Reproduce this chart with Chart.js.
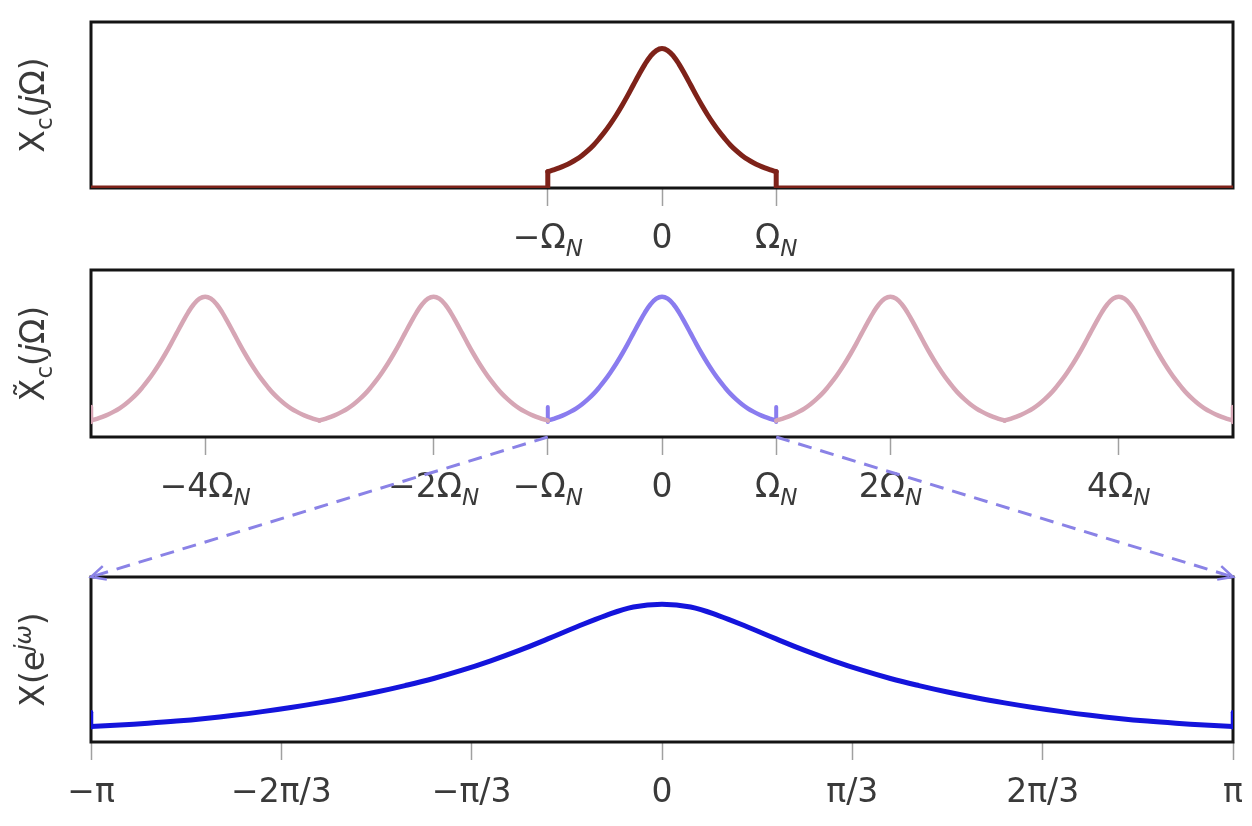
<!DOCTYPE html>
<html><head><meta charset="utf-8">
<script src="https://cdn.jsdelivr.net/npm/chart.js@4.4.0/dist/chart.umd.min.js"></script>
<style>
html,body{margin:0;padding:0;background:#fff;}
#wrap{position:relative;width:1252px;height:826px;overflow:hidden;background:#fff;}
#wrap canvas{position:absolute;left:0;top:0;}
</style></head><body>
<div id="wrap">
<canvas id="c1" width="1252" height="826"></canvas>
<canvas id="c2" width="1252" height="826"></canvas>
<canvas id="c3" width="1252" height="826"></canvas>
</div>
<script>
// ---------------- DATA ----------------
// Panel 1: continuous-time spectrum Xc(jΩ), Ω in units of Ω_N (band-limited to |Ω| ≤ Ω_N)
const xcOmega = [-1, -0.95, -0.9, -0.85, -0.8, -0.75, -0.7, -0.65, -0.6, -0.55, -0.5, -0.45, -0.4, -0.35, -0.3, -0.25, -0.2, -0.15, -0.1, -0.05,
                 0, 0.05, 0.1, 0.15, 0.2, 0.25, 0.3, 0.35, 0.4, 0.45, 0.5, 0.55, 0.6, 0.65, 0.7, 0.75, 0.8, 0.85, 0.9, 0.95, 1];
const xcMag   = [0.098, 0.109, 0.121, 0.135, 0.152, 0.172, 0.196, 0.225, 0.258, 0.297, 0.34, 0.388, 0.44, 0.497, 0.558, 0.622, 0.685, 0.745, 0.795, 0.828,
                 0.84, 0.828, 0.795, 0.745, 0.685, 0.622, 0.558, 0.497, 0.44, 0.388, 0.34, 0.297, 0.258, 0.225, 0.196, 0.172, 0.152, 0.135, 0.121, 0.109, 0.098];
const xcOutside = [-5, 5];          // x-range of the zero part (Ω_N units)
const xcZero = 0;

// Panel 2: periodic spectrum, replicas of Xc centered at multiples of 2Ω_N
const replicaCenters = [-4, -2, 2, 4];
const baseCenter = 0;
const edgeMarkX = [-5, 5];
const markLow = 0.09, markHigh = 0.18;

// Panel 3: DTFT X(e^{jω}), ω in units of π
const dtftOmega = [-1, -0.95, -0.9, -0.85, -0.8, -0.75, -0.7, -0.65, -0.6, -0.55, -0.5, -0.45, -0.4, -0.35, -0.3, -0.25, -0.2, -0.15, -0.1, -0.05,
                   0, 0.05, 0.1, 0.15, 0.2, 0.25, 0.3, 0.35, 0.4, 0.45, 0.5, 0.55, 0.6, 0.65, 0.7, 0.75, 0.8, 0.85, 0.9, 0.95, 1];
const dtftMag   = [0.094, 0.103, 0.114, 0.127, 0.143, 0.162, 0.184, 0.209, 0.237, 0.268, 0.303, 0.342, 0.385, 0.435, 0.492, 0.555, 0.625, 0.697, 0.765, 0.818,
                   0.835, 0.818, 0.765, 0.697, 0.625, 0.555, 0.492, 0.435, 0.385, 0.342, 0.303, 0.268, 0.237, 0.209, 0.184, 0.162, 0.143, 0.127, 0.114, 0.103, 0.094];

// Ticks
const ticks1 = [-1, 0, 1];
const tickLabels1 = ['−Ω_N', '0', 'Ω_N'];
const ticks2 = [-4, -2, -1, 0, 1, 2, 4];
const tickLabels2 = ['−4Ω_N', '−2Ω_N', '−Ω_N', '0', 'Ω_N', '2Ω_N', '4Ω_N'];
const ticks3 = [-1, -2/3, -1/3, 0, 1/3, 2/3, 1];
const tickLabels3 = ['−π', '−2π/3', '−π/3', '0', 'π/3', '2π/3', 'π'];

// Axis titles
const yTitle1 = 'X_c(jΩ)';
const yTitle2 = 'X\u0303_c(jΩ)';
const yTitle3 = 'X(e^{jω})';

// Mapping arrows: panel-2 Ω (Ω_N units) -> panel-3 ω (π units)
const mapFrom = [-1, 1];
const mapTo = [-1, 1];

// ---------------- STYLE / LAYOUT ----------------
const W = 1252, H = 826, TICK_LEN = 18;
const FONT = '"DejaVu Sans", "Liberation Sans", sans-serif';
const TXT = '#3a3a3a';
const RED = '#7e2219', PINK = '#d6a6b5', LAV = '#8a7cef', BLUE = '#1414dc', DASH = '#8a82e6';
const areas = [
  {left: 91, right: 1233, top: 22, bottom: 188},
  {left: 91, right: 1233, top: 270, bottom: 437},
  {left: 91, right: 1233, top: 577, bottom: 742}
];
function paddingFor(a) { return {left: a.left, right: W - a.right, top: a.top, bottom: H - a.bottom - TICK_LEN}; }

// ---------------- RICH TEXT ----------------
function parseRich(str) {
  const runs = [];
  const italic = 'jωN';
  function addChar(c, mode) {
    if (c === '\u0303' && runs.length) { runs[runs.length - 1].text += c; return; }
    const it = italic.includes(c);
    const last = runs[runs.length - 1];
    if (last && last.mode === mode && last.italic === it) last.text += c;
    else runs.push({text: c, mode: mode, italic: it});
  }
  let i = 0;
  while (i < str.length) {
    const ch = str[i];
    if (ch === '_' || ch === '^') {
      const mode = ch === '_' ? 'sub' : 'sup'; i++;
      let content;
      if (str[i] === '{') { const j = str.indexOf('}', i); content = str.slice(i + 1, j); i = j + 1; }
      else { content = str[i]; i++; }
      for (const c of content) addChar(c, mode);
    } else { addChar(ch, 'base'); i++; }
  }
  return runs;
}
function drawRich(ctx, str, cx, baseline, size, color) {
  const runs = parseRich(str);
  const fontFor = r => (r.italic ? 'italic ' : '') + (r.mode === 'base' ? size : Math.round(size * 0.7)) + 'px ' + FONT;
  let total = 0;
  runs.forEach(r => { ctx.font = fontFor(r); r.w = ctx.measureText(r.text).width; total += r.w; });
  let x = cx - total / 2;
  ctx.fillStyle = color; ctx.textBaseline = 'alphabetic'; ctx.textAlign = 'left';
  runs.forEach(r => {
    ctx.font = fontFor(r);
    const dy = r.mode === 'sub' ? size * 0.24 : (r.mode === 'sup' ? -size * 0.40 : 0);
    ctx.fillText(r.text, x, baseline + dy);
    x += r.w;
  });
}

// ---------------- PLUGINS ----------------
const framePlugin = {
  id: 'frame',
  beforeDatasetsDraw(chart) {
    const {ctx, chartArea: a} = chart;
    ctx.save(); ctx.strokeStyle = '#141414'; ctx.lineWidth = 3;
    ctx.strokeRect(a.left, a.top, a.right - a.left, a.bottom - a.top);
    ctx.restore();
  }
};
const textPlugin = {
  id: 'richText',
  afterDraw(chart, args, opts) {
    const {ctx, chartArea: a} = chart;
    const sx = chart.scales.x;
    ctx.save();
    sx.ticks.forEach((t, i) => {
      const lab = opts.labels[i];
      if (lab === undefined) return;
      drawRich(ctx, lab, sx.getPixelForValue(t.value), a.bottom + 60, 33, TXT);
    });
    ctx.translate(44, (a.top + a.bottom) / 2);
    ctx.rotate(-Math.PI / 2);
    drawRich(ctx, opts.title, 0, 0, 33, TXT);
    ctx.restore();
  }
};
let chart2 = null;
const arrowPlugin = {
  id: 'aliasArrows',
  afterDraw(chart) {
    if (!chart2) return;
    const {ctx} = chart;
    const s2 = chart2.scales.x, a2 = chart2.chartArea;
    const s3 = chart.scales.x, a3 = chart.chartArea;
    ctx.save();
    ctx.strokeStyle = DASH; ctx.lineWidth = 3;
    mapFrom.forEach((f, i) => {
      const x0 = s2.getPixelForValue(f), y0 = a2.bottom;
      const x1 = s3.getPixelForValue(mapTo[i]), y1 = a3.top;
      ctx.setLineDash([14, 9]);
      ctx.beginPath(); ctx.moveTo(x0, y0); ctx.lineTo(x1, y1); ctx.stroke();
      const ang = Math.atan2(y1 - y0, x1 - x0), L = 16, sp = 0.45;
      ctx.setLineDash([]);
      ctx.lineWidth = 2.5;
      ctx.beginPath();
      ctx.moveTo(x1 - L * Math.cos(ang - sp), y1 - L * Math.sin(ang - sp));
      ctx.lineTo(x1, y1);
      ctx.lineTo(x1 - L * Math.cos(ang + sp), y1 - L * Math.sin(ang + sp));
      ctx.stroke();
      ctx.lineWidth = 3;
    });
    ctx.restore();
  }
};

function xScale(min, max, tickVals) {
  return {
    type: 'linear', min: min, max: max, position: 'bottom',
    afterBuildTicks: s => { s.ticks = tickVals.map(v => ({value: v})); },
    ticks: {display: false},
    border: {display: false},
    grid: {display: true, drawOnChartArea: false, drawTicks: true, tickLength: TICK_LEN, tickColor: '#a0a0a0', tickWidth: 1.5}
  };
}
function baseOptions(area, xs, labels, title) {
  return {
    responsive: false, animation: false, devicePixelRatio: 1,
    layout: {padding: paddingFor(area)},
    scales: {x: xs, y: {type: 'linear', min: 0, max: 1, display: false}},
    plugins: {legend: {display: false}, tooltip: {enabled: false}, richText: {labels: labels, title: title}},
    elements: {point: {radius: 0}},
    events: []
  };
}
const pts = (xs, ys, shift) => xs.map((x, i) => ({x: x + shift, y: ys[i]}));
const lineDS = (data, color, width, smooth) => ({
  data: data, borderColor: color, borderWidth: width, pointRadius: 0, fill: false,
  tension: smooth ? 0.4 : 0, cubicInterpolationMode: 'default', borderCapStyle: 'round', borderJoinStyle: 'round'
});

// ---------------- CHART 1 ----------------
new Chart(document.getElementById('c1'), {
  type: 'line',
  data: {datasets: [
    lineDS([{x: xcOutside[0], y: xcZero}, {x: xcOmega[0], y: xcZero}, {x: xcOmega[0], y: xcMag[0]}], RED, 5, false),
    lineDS(pts(xcOmega, xcMag, 0), RED, 5, true),
    lineDS([{x: xcOmega[xcOmega.length - 1], y: xcMag[xcMag.length - 1]}, {x: xcOmega[xcOmega.length - 1], y: xcZero}, {x: xcOutside[1], y: xcZero}], RED, 5, false)
  ]},
  options: baseOptions(areas[0], xScale(-5, 5, ticks1), tickLabels1, yTitle1),
  plugins: [framePlugin, textPlugin]
});

// ---------------- CHART 2 ----------------
const ds2 = [];
replicaCenters.forEach(c => ds2.push(lineDS(pts(xcOmega, xcMag, c), PINK, 4.5, true)));
edgeMarkX.forEach(x => ds2.push(lineDS([{x: x, y: markLow}, {x: x, y: markHigh}], PINK, 4.5, false)));
ds2.push(lineDS(pts(xcOmega, xcMag, baseCenter), LAV, 4.5, true));
[xcOmega[0], xcOmega[xcOmega.length - 1]].forEach(x => ds2.push(lineDS([{x: x, y: markLow}, {x: x, y: markHigh}], LAV, 4, false)));
chart2 = new Chart(document.getElementById('c2'), {
  type: 'line',
  data: {datasets: ds2},
  options: baseOptions(areas[1], xScale(-5, 5, ticks2), tickLabels2, yTitle2),
  plugins: [framePlugin, textPlugin]
});

// ---------------- CHART 3 ----------------
new Chart(document.getElementById('c3'), {
  type: 'line',
  data: {datasets: [
    lineDS(pts(dtftOmega, dtftMag, 0), BLUE, 5, true),
    lineDS([{x: dtftOmega[0], y: markLow}, {x: dtftOmega[0], y: markHigh}], BLUE, 4.5, false),
    lineDS([{x: dtftOmega[dtftOmega.length - 1], y: markLow}, {x: dtftOmega[dtftOmega.length - 1], y: markHigh}], BLUE, 4.5, false)
  ]},
  options: baseOptions(areas[2], xScale(-1, 1, ticks3), tickLabels3, yTitle3),
  plugins: [framePlugin, textPlugin, arrowPlugin]
});
</script>
</body></html>
